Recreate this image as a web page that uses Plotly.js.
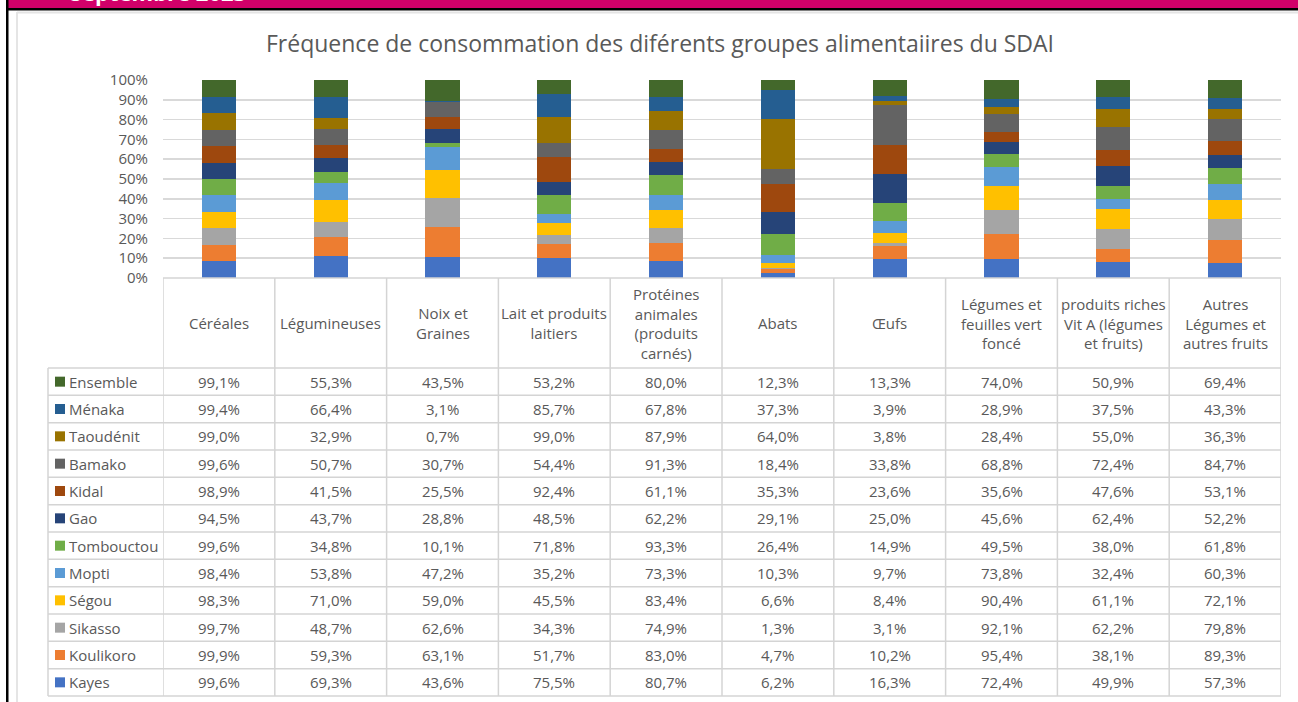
<!DOCTYPE html>
<html><head><meta charset="utf-8">
<script src="https://cdn.plot.ly/plotly-3.0.1.min.js"></script>
<style>html,body{margin:0;padding:0;background:#fff}#chart{width:1298px;height:702px}</style>
</head><body><div id="chart"></div>
<script>
// ---- DATA ----
const categories = ['Céréales','Légumineuses','Noix et Graines','Lait et produits laitiers','Protéines animales (produits carnés)','Abats','Œufs','Légumes et feuilles vert foncé','produits riches Vit A (légumes et fruits)','Autres Légumes et autres fruits'];
const categoryLabels = ['Céréales','Légumineuses','Noix et<br>Graines','Lait et produits<br>laitiers','Protéines<br>animales<br>(produits<br>carnés)','Abats','Œufs','Légumes et<br>feuilles vert<br>foncé','produits riches<br>Vit A (légumes<br>et fruits)','Autres<br>Légumes et<br>autres fruits'];
const regions = ['Kayes','Koulikoro','Sikasso','Ségou','Mopti','Tombouctou','Gao','Kidal','Bamako','Taoudénit','Ménaka','Ensemble'];
const kayes      = [99.6,69.3,43.6,75.5,80.7,6.2,16.3,72.4,49.9,57.3];
const koulikoro  = [99.9,59.3,63.1,51.7,83.0,4.7,10.2,95.4,38.1,89.3];
const sikasso    = [99.7,48.7,62.6,34.3,74.9,1.3,3.1,92.1,62.2,79.8];
const segou      = [98.3,71.0,59.0,45.5,83.4,6.6,8.4,90.4,61.1,72.1];
const mopti      = [98.4,53.8,47.2,35.2,73.3,10.3,9.7,73.8,32.4,60.3];
const tombouctou = [99.6,34.8,10.1,71.8,93.3,26.4,14.9,49.5,38.0,61.8];
const gao        = [94.5,43.7,28.8,48.5,62.2,29.1,25.0,45.6,62.4,52.2];
const kidal      = [98.9,41.5,25.5,92.4,61.1,35.3,23.6,35.6,47.6,53.1];
const bamako     = [99.6,50.7,30.7,54.4,91.3,18.4,33.8,68.8,72.4,84.7];
const taoudenit  = [99.0,32.9,0.7,99.0,87.9,64.0,3.8,28.4,55.0,36.3];
const menaka     = [99.4,66.4,3.1,85.7,67.8,37.3,3.9,28.9,37.5,43.3];
const ensemble   = [99.1,55.3,43.5,53.2,80.0,12.3,13.3,74.0,50.9,69.4];
const seriesValues = [kayes,koulikoro,sikasso,segou,mopti,tombouctou,gao,kidal,bamako,taoudenit,menaka,ensemble];
const colors = ['#4472C4','#ED7D31','#A5A5A5','#FFC000','#5B9BD5','#70AD47','#264478','#9E480E','#636363','#997300','#255E91','#43682B'];
const yTicks = [0,10,20,30,40,50,60,70,80,90,100];
const titleText = 'Fréquence de consommation des diférents groupes alimentaiires du SDAI';
const headerText = 'Septembre 2023';

// ---- LAYOUT GEOMETRY ----
const W = 1298, H = 702;
const ML = 163, MR = 17, MT = 80, MB = 424;
const PW = W - ML - MR, PH = H - MT - MB;
const px2x = X => (X - ML) / PW;
const px2y = Y => (H - MB - Y) / PH;
const FONT = 'Open Sans, Noto Sans, sans-serif';
const TXT = '#595959';
const GRID = '#d9d9d9';
const TLINE = '#d4d4d4';
const FS = 15;
const headerBottom = 368, tableBottom = 696, tableLeft = 48;
const rowH = (tableBottom - headerBottom) / regions.length;

const traces = regions.map((r, i) => ({
  type: 'bar', name: r, x: categories, y: seriesValues[i],
  marker: {color: colors[i], line: {width: 0}}, hoverinfo: 'name+y'
}));

const fmt = v => v.toFixed(1).replace('.', ',') + '%';

const shapes = [];
const annotations = [];

// frame decoration
shapes.push({type:'rect', xref:'paper', yref:'paper', x0:px2x(8), x1:px2x(W), y0:px2y(0), y1:px2y(8.5), fillcolor:'#D10069', line:{width:0}, layer:'above'});
shapes.push({type:'rect', xref:'paper', yref:'paper', x0:px2x(6), x1:px2x(W), y0:px2y(8), y1:px2y(10.5), fillcolor:'#000', line:{width:0}, layer:'above'});
shapes.push({type:'rect', xref:'paper', yref:'paper', x0:px2x(6), x1:px2x(8.5), y0:px2y(0), y1:px2y(H), fillcolor:'#000', line:{width:0}, layer:'above'});
shapes.push({type:'line', xref:'paper', yref:'paper', x0:px2x(17), x1:px2x(17), y0:px2y(12), y1:px2y(H), line:{color:'#dcdcdc', width:1.5}});
shapes.push({type:'line', xref:'paper', yref:'paper', x0:px2x(17), x1:px2x(W), y0:px2y(12.5), y1:px2y(12.5), line:{color:'#e4e4e4', width:2}});

// table lines
shapes.push({type:'line', xref:'paper', yref:'paper', x0:0, x1:1, y0:0, y1:0, line:{color:TLINE, width:1.5}});
for (let i = 0; i <= regions.length; i++) {
  const Y = headerBottom + i * rowH;
  shapes.push({type:'line', xref:'paper', yref:'paper', x0:px2x(tableLeft), x1:1, y0:px2y(Y), y1:px2y(Y), line:{color:TLINE, width:1.5}});
}
shapes.push({type:'line', xref:'paper', yref:'paper', x0:px2x(tableLeft), x1:px2x(tableLeft), y0:px2y(headerBottom), y1:px2y(tableBottom), line:{color:TLINE, width:1.5}});
for (let c = 0; c <= categories.length; c++) {
  shapes.push({type:'line', xref:'x', yref:'paper', x0:c - 0.5, x1:c - 0.5, y0:0, y1:px2y(tableBottom), line:{color:TLINE, width:1.5}});
}

// header labels
categoryLabels.forEach((lab, c) => {
  annotations.push({xref:'x', yref:'paper', x:categories[c], y:px2y((278 + headerBottom) / 2), text:lab, showarrow:false,
    xanchor:'center', yanchor:'middle', align:'center', font:{family:FONT, size:FS, color:TXT}});
});

// rows: top = last region (Ensemble)
for (let i = 0; i < regions.length; i++) {
  const s = regions.length - 1 - i;
  const Yc = headerBottom + (i + 0.5) * rowH;
  shapes.push({type:'rect', xref:'paper', yref:'paper', x0:px2x(55), x1:px2x(65), y0:px2y(Yc - 5), y1:px2y(Yc + 5), fillcolor:colors[s], line:{width:0}});
  annotations.push({xref:'paper', yref:'paper', x:px2x(67), y:px2y(Yc), text:regions[s], showarrow:false,
    xanchor:'left', yanchor:'middle', font:{family:FONT, size:FS, color:TXT}});
  seriesValues[s].forEach((v, c) => {
    annotations.push({xref:'x', yref:'paper', x:categories[c], y:px2y(Yc), text:fmt(v), showarrow:false,
      xanchor:'center', yanchor:'middle', font:{family:FONT, size:FS, color:TXT}});
  });
}

// clipped header text on magenta band (cut off at the top, as in the source)
annotations.push({xref:'paper', yref:'paper', x:px2x(68), y:px2y(9), text:'<b>' + headerText + '</b>', showarrow:false,
  xanchor:'left', yanchor:'bottom', font:{family:FONT, size:22, color:'#ffffff'}});

const layout = {
  width: W, height: H,
  margin: {l: ML, r: MR, t: MT, b: MB, pad: 0},
  paper_bgcolor: '#ffffff', plot_bgcolor: '#ffffff',
  barmode: 'stack', barnorm: 'percent', bargap: 0.695,
  showlegend: false,
  title: {text: titleText, font: {family: FONT, size: 23, color: TXT}, xref: 'container', yref: 'container', x: 660 / W, y: 1 - 44 / H, xanchor: 'center', yanchor: 'middle'},
  xaxis: {type: 'category', range: [-0.5, categories.length - 0.5], showticklabels: false, showgrid: false, zeroline: false, showline: false, ticks: '', fixedrange: true},
  yaxis: {range: [0, 100], tickvals: yTicks, ticktext: yTicks.map(t => t + '%'), showgrid: true, gridcolor: GRID, gridwidth: 1.5, zeroline: false, showline: false, ticks: '',
    ticklabelstandoff: 14, tickfont: {family: FONT, size: 15, color: TXT}, fixedrange: true},
  shapes: shapes, annotations: annotations,
  font: {family: FONT, color: TXT}
};

Plotly.newPlot('chart', traces, layout, {displayModeBar: false, staticPlot: true});
</script>
</body></html>
